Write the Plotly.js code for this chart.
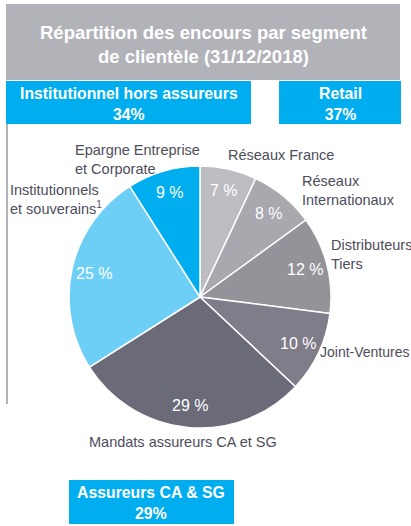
<!DOCTYPE html>
<html>
<head>
<meta charset="utf-8">
<script src="https://cdn.plot.ly/plotly-3.0.1.min.js"></script>
<style>html,body{margin:0;padding:0;background:#fff;}#chart{width:411px;height:526px;}</style>
</head>
<body>
<div id="chart"></div>
<script>
// Data
const segments = ["Réseaux France", "Réseaux Internationaux", "Distributeurs Tiers", "Joint-Ventures", "Mandats assureurs CA et SG", "Institutionnels et souverains", "Epargne Entreprise et Corporate"];
const shares = [7, 8, 12, 10, 29, 25, 9];
const sliceColors = ["#bcbcc1", "#a8a8ae", "#939399", "#7e7d89", "#6a6a78", "#6dcff6", "#00aeef"];
const groupLabels = ["Institutionnel hors assureurs", "Retail", "Assureurs CA & SG"];
const groupShares = [34, 37, 29];
const titleText = "Répartition des encours par segment<br>de clientèle (31/12/2018)";

const W = 411, H = 526;
const px = x => x / W;
const py = y => 1 - y / H;

const cx = 200, cy = 297, R = 131;

const trace = {
  type: "pie",
  labels: segments,
  values: shares,
  textinfo: "none",
  sort: false,
  direction: "clockwise",
  rotation: 0,
  marker: {colors: sliceColors, line: {color: "#ffffff", width: 1.5}},
  hoverinfo: "none",
  showlegend: false,
  domain: {x: [px(cx - R), px(cx + R)], y: [py(cy + R), py(cy - R)]}
};

const lblFont = {family: "Liberation Sans, Arial, sans-serif", size: 14.5, color: "#4d4d5c"};
const boxFont = {family: "Liberation Sans, Arial, sans-serif", size: 15.8, color: "#ffffff", weight: "bold"};
const pctFont = {family: "Liberation Sans, Arial, sans-serif", size: 16, color: "#ffffff"};

function lbl(text, x, y, size) {
  const f = Object.assign({}, lblFont);
  if (size) f.size = size;
  return {text: text, x: px(x), y: py(y), xref: "paper", yref: "paper", xanchor: "left", yanchor: "middle", align: "left", showarrow: false, font: f};
}
function ctr(text, x, y, font) {
  return {text: text, x: px(x), y: py(y), xref: "paper", yref: "paper", xanchor: "center", yanchor: "middle", align: "center", showarrow: false, font: font};
}

// percentage labels placed along each slice's bisector, computed from the data
const total = shares.reduce((a, b) => a + b, 0);
const pctAnnotations = [];
let cum = 0;
shares.forEach(v => {
  const mid = (cum + v / 2) / total * 2 * Math.PI;
  cum += v;
  const r = 0.83 * R;
  pctAnnotations.push(ctr(v + " %", cx + r * Math.sin(mid), cy - r * Math.cos(mid), pctFont));
});

const annotations = [
  ctr(titleText, 203, 44, {family: "Liberation Sans, Arial, sans-serif", size: 18.5, color: "#ffffff", weight: "bold"}),
  ctr(groupLabels[0] + "<br>" + groupShares[0] + "%", 129, 104, boxFont),
  ctr(groupLabels[1] + "<br>" + groupShares[1] + "%", 340, 104, boxFont),
  ctr(groupLabels[2] + "<br>" + groupShares[2] + "%", 151, 503, boxFont),
  lbl("Réseaux France", 226, 155),
  lbl("Réseaux<br>Internationaux", 300, 191),
  lbl("Distributeurs<br>Tiers", 329, 254),
  lbl("Joint-Ventures", 318, 352, 14),
  lbl("Mandats assureurs CA et SG", 87, 442),
  lbl("Institutionnels<br>et souverains<sup>1</sup>", 8, 199),
  lbl("Epargne Entreprise<br>et Corporate", 73, 159)
].concat(pctAnnotations);

function rect(x0, y0, x1, y1, color) {
  return {type: "rect", xref: "paper", yref: "paper", x0: px(x0), x1: px(x1), y0: py(y1), y1: py(y0), fillcolor: color, line: {width: 0}, layer: "below"};
}

const shapes = [
  rect(6, 4, 400, 80, "#b2b2b9"),
  rect(6, 81, 251, 124, "#00aeef"),
  rect(279, 81, 401, 124, "#00aeef"),
  rect(69, 480, 234, 524, "#00aeef"),
  rect(6, 124, 8, 404, "#b2b2b9")
];

const layout = {
  width: W, height: H,
  margin: {l: 0, r: 0, t: 0, b: 0},
  paper_bgcolor: "#ffffff",
  plot_bgcolor: "#ffffff",
  showlegend: false,
  annotations: annotations,
  shapes: shapes
};

Plotly.newPlot("chart", [trace], layout, {displayModeBar: false, staticPlot: true});
</script>
</body>
</html>
